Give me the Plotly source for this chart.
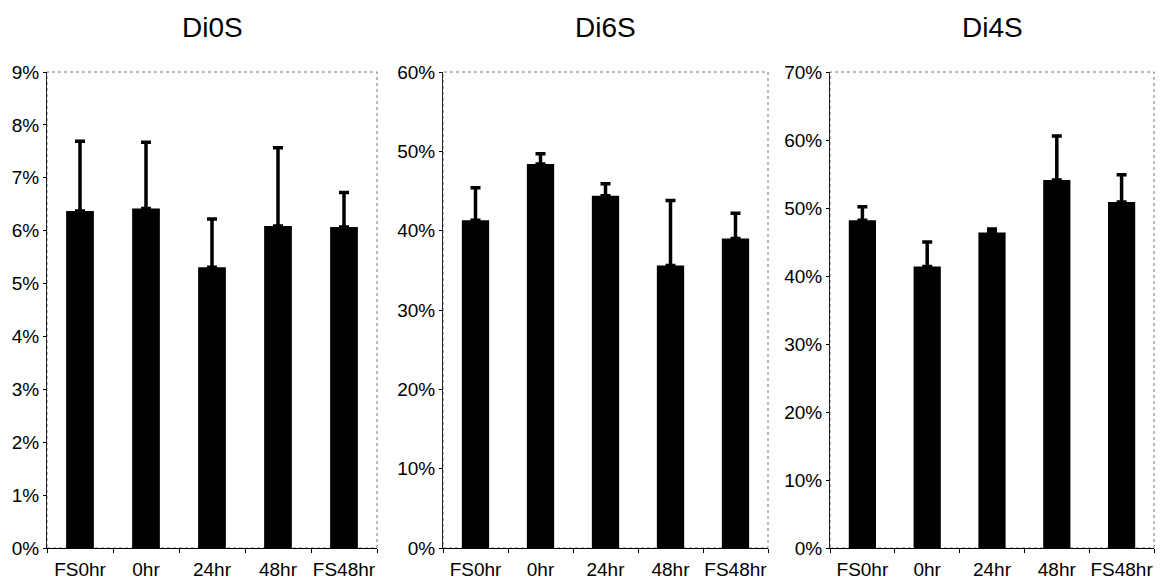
import plotly.graph_objects as go
from plotly.subplots import make_subplots

# Sampling groups
categories = ["FS0hr", "0hr", "24hr", "48hr", "FS48hr"]

# Disaccharide composition (% of total), mean and upper error
di0s_mean = [6.37, 6.42, 5.31, 6.09, 6.07]
di0s_err = [1.32, 1.25, 0.91, 1.48, 0.65]

di6s_mean = [41.3, 48.4, 44.4, 35.6, 39.0]
di6s_err = [4.1, 1.3, 1.5, 8.2, 3.2]

di4s_mean = [48.2, 41.4, 46.4, 54.1, 50.9]
di4s_err = [2.0, 3.6, 0.5, 6.5, 4.0]

titles = ["Di0S", "Di6S", "Di4S"]
y_max = [9, 60, 70]
y_step = [1, 10, 10]

W, H = 1169, 586
# panel pixel frames: (left, right)
x_px = [(47, 377), (443, 768), (830, 1154)]
y_top_px, y_bot_px = 72, 548

fig = make_subplots(rows=1, cols=3)

series = [(di0s_mean, di0s_err), (di6s_mean, di6s_err), (di4s_mean, di4s_err)]
for i, (m, e) in enumerate(series):
    fig.add_trace(
        go.Bar(
            x=categories,
            y=m,
            marker=dict(color="black", line=dict(width=0)),
            error_y=dict(
                type="data",
                symmetric=False,
                array=e,
                arrayminus=[0] * len(e),
                color="black",
                thickness=3.5,
                width=5,
            ),
            showlegend=False,
        ),
        row=1,
        col=i + 1,
    )

font_family = "Liberation Sans, Arial, sans-serif"

for i in range(3):
    xa = "xaxis" if i == 0 else f"xaxis{i + 1}"
    ya = "yaxis" if i == 0 else f"yaxis{i + 1}"
    l, r = x_px[i]
    fig.layout[xa].update(
        domain=[l / W, r / W],
        showline=True,
        linecolor="black",
        linewidth=1,
        ticks="outside",
        ticklen=4,
        tickcolor="black",
        tickson="boundaries",
        tickangle=0,
        automargin=False,
        showgrid=False,
        zeroline=False,
        tickfont=dict(family=font_family, size=19, color="black"),
        ticklabelstandoff=4,
    )
    fig.layout[ya].update(
        domain=[1 - y_bot_px / H, 1 - y_top_px / H],
        range=[0, y_max[i]],
        dtick=y_step[i],
        tick0=0,
        ticksuffix="%",
        showline=True,
        linecolor="#222222",
        linewidth=1,
        ticks="outside",
        ticklen=3,
        tickcolor="black",
        automargin=False,
        showgrid=False,
        zeroline=False,
        tickfont=dict(family=font_family, size=19, color="black"),
    )
    xref = "x domain" if i == 0 else f"x{i + 1} domain"
    yref = "y domain" if i == 0 else f"y{i + 1} domain"
    # dotted frame around the plot area
    fig.add_shape(
        type="rect",
        xref=xref,
        yref=yref,
        x0=0,
        x1=1,
        y0=0,
        y1=1,
        line=dict(color="#777777", width=1, dash="dot"),
        layer="below",
    )
    fig.add_annotation(
        text=titles[i],
        x=(l + r) / 2 / W,
        y=1 - 27 / H,
        xref="paper",
        yref="paper",
        showarrow=False,
        font=dict(family=font_family, size=28, color="black"),
        xanchor="center",
        yanchor="middle",
    )

fig.update_layout(
    width=W,
    height=H,
    margin=dict(l=0, r=0, t=0, b=0),
    paper_bgcolor="white",
    plot_bgcolor="white",
    bargap=0.58,
)

fig.write_html("out.html")
